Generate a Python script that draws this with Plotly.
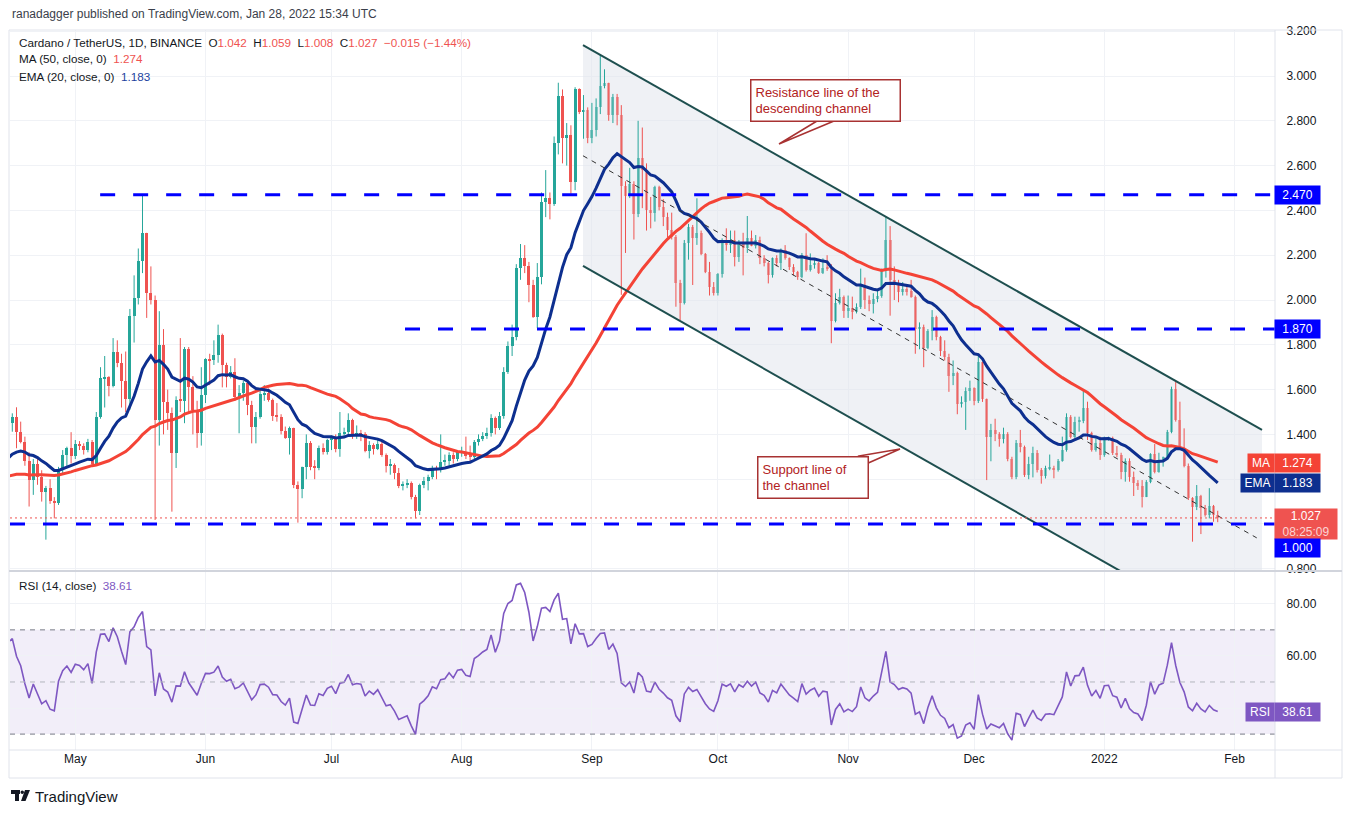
import pandas as pd
import plotly.graph_objects as go
from plotly.subplots import make_subplots

# ---------------------------------------------------------------------------
# ADA/USDT daily candles (Binance), 16 Apr 2021 -> 28 Jan 2022.
# Crypto trades 24/7, so each open is simply the previous close.
# ---------------------------------------------------------------------------

first_day = "2021-04-16"

# closes before the visible window - only used to warm up MA / EMA / RSI
warmup_close = [
    1.22, 1.26, 1.34, 1.29, 1.39, 1.17, 1.24, 1.17, 1.21, 1.19,
    1.12, 1.10, 1.12, 1.09, 1.06, 1.03, 1.06, 1.05, 1.06, 1.08,
    1.33, 1.32, 1.36, 1.30, 1.24, 1.20, 1.13, 1.06, 1.11, 1.14,
    1.18, 1.19, 1.20, 1.22, 1.20, 1.20, 1.20, 1.18, 1.20, 1.22,
    1.20, 1.15, 1.22, 1.26, 1.34, 1.40, 1.33, 1.41, 1.50, 1.45,
]

close = [
    1.479, 1.409, 1.368, 1.28, 1.197, 1.27, 1.21, 1.145, 1.16, 1.103,
    1.092, 1.241, 1.308, 1.338, 1.305, 1.356, 1.35, 1.33, 1.365, 1.27,
    1.479, 1.65, 1.655, 1.617, 1.766, 1.72, 1.64, 1.56, 1.93, 2.007,
    2.175, 2.298, 2.03, 2.0, 1.465, 1.80, 1.546, 1.494, 1.316, 1.554,
    1.55, 1.78, 1.61, 1.51, 1.405, 1.576, 1.735, 1.732, 1.754, 1.844,
    1.71, 1.655, 1.68, 1.565, 1.586, 1.628, 1.531, 1.434, 1.479, 1.579,
    1.583, 1.554, 1.482, 1.479, 1.417, 1.382, 1.43, 1.174, 1.156, 1.256,
    1.36, 1.256, 1.252, 1.338, 1.323, 1.375, 1.39, 1.333, 1.405, 1.41,
    1.464, 1.397, 1.405, 1.40, 1.326, 1.353, 1.333, 1.356, 1.308, 1.26,
    1.265, 1.226, 1.171, 1.177, 1.184, 1.122, 1.06, 1.174, 1.19, 1.21,
    1.249, 1.24, 1.279, 1.283, 1.308, 1.289, 1.32, 1.323, 1.304, 1.30,
    1.368, 1.38, 1.395, 1.405, 1.472, 1.427, 1.48, 1.68, 1.795, 1.836,
    2.142, 2.186, 2.15, 2.067, 1.923, 2.102, 2.439, 2.454, 2.43, 2.70,
    2.911, 2.722, 2.737, 2.529, 2.941, 2.841, 2.848, 2.722, 2.76, 2.863,
    2.956, 2.968, 2.826, 2.908, 2.826, 2.511, 2.466, 2.518, 2.384, 2.633,
    2.58, 2.402, 2.39, 2.503, 2.417, 2.37, 2.313, 2.283, 2.077, 1.985,
    2.253, 2.327, 2.275, 2.297, 2.205, 2.126, 2.06, 2.03, 2.116, 2.268,
    2.246, 2.268, 2.193, 2.253, 2.231, 2.278, 2.24, 2.27, 2.186, 2.167,
    2.112, 2.186, 2.167, 2.223, 2.186, 2.149, 2.127, 2.104, 2.201, 2.134,
    2.156, 2.167, 2.119, 2.144, 2.14, 1.908, 1.985, 2.015, 1.952, 1.966,
    1.948, 1.97, 2.067, 2.0, 1.98, 2.003, 2.02, 2.131, 2.268, 2.089,
    2.071, 2.037, 2.048, 2.04, 2.015, 1.869, 1.88, 1.784, 1.863, 1.926,
    1.836, 1.774, 1.747, 1.661, 1.676, 1.536, 1.546, 1.595, 1.606, 1.547,
    1.725, 1.557, 1.39, 1.42, 1.40, 1.378, 1.40, 1.289, 1.211, 1.36,
    1.345, 1.219, 1.268, 1.315, 1.24, 1.214, 1.248, 1.25, 1.243, 1.283,
    1.33, 1.479, 1.39, 1.457, 1.46, 1.516, 1.405, 1.33, 1.363, 1.308,
    1.382, 1.385, 1.318, 1.308, 1.234, 1.283, 1.211, 1.181, 1.17, 1.122,
    1.189, 1.313, 1.234, 1.286, 1.298, 1.412, 1.603, 1.464, 1.338, 1.259,
    1.114, 1.074, 1.125, 1.07, 1.04, 1.08, 1.042, 1.027,
]

high = [
    1.494, 1.521, 1.457, 1.39, 1.32, 1.29, 1.29, 1.24, 1.17, 1.20,
    1.12, 1.255, 1.33, 1.345, 1.41, 1.375, 1.37, 1.36, 1.38, 1.375,
    1.50, 1.70, 1.75, 1.66, 1.83, 1.82, 1.76, 1.77, 1.96, 2.11,
    2.23, 2.469, 2.30, 2.15, 2.02, 1.95, 1.87, 1.60, 1.52, 1.57,
    1.83, 1.79, 1.79, 1.66, 1.55, 1.70, 1.74, 1.76, 1.82, 1.89,
    1.85, 1.72, 1.705, 1.74, 1.62, 1.64, 1.64, 1.55, 1.50, 1.60,
    1.62, 1.605, 1.56, 1.54, 1.49, 1.435, 1.435, 1.43, 1.19, 1.256,
    1.40, 1.37, 1.285, 1.35, 1.36, 1.38, 1.395, 1.40, 1.50, 1.43,
    1.494, 1.47, 1.44, 1.42, 1.41, 1.37, 1.36, 1.375, 1.375, 1.315,
    1.29, 1.27, 1.25, 1.19, 1.20, 1.19, 1.13, 1.18, 1.21, 1.22,
    1.26, 1.26, 1.40, 1.31, 1.32, 1.32, 1.33, 1.345, 1.39, 1.35,
    1.375, 1.40, 1.41, 1.43, 1.49, 1.48, 1.50, 1.70, 1.815, 1.89,
    2.16, 2.25, 2.245, 2.17, 2.09, 2.165, 2.48, 2.58, 2.48, 2.73,
    2.97, 2.94, 2.79, 2.78, 2.95, 2.945, 2.915, 2.86, 2.88, 2.90,
    3.094, 3.03, 2.97, 2.92, 2.92, 2.87, 2.53, 2.59, 2.53, 2.80,
    2.77, 2.61, 2.46, 2.51, 2.51, 2.45, 2.39, 2.39, 2.29, 2.09,
    2.268, 2.34, 2.335, 2.454, 2.31, 2.21, 2.17, 2.08, 2.12, 2.275,
    2.32, 2.31, 2.31, 2.268, 2.30, 2.375, 2.31, 2.29, 2.283, 2.20,
    2.17, 2.19, 2.20, 2.23, 2.245, 2.19, 2.16, 2.13, 2.21, 2.298,
    2.208, 2.18, 2.17, 2.186, 2.20, 2.16, 2.03, 2.05, 2.02, 2.02,
    2.015, 1.985, 2.14, 2.10, 2.02, 2.03, 2.04, 2.14, 2.372, 2.33,
    2.15, 2.09, 2.08, 2.06, 2.09, 2.02, 1.90, 1.89, 1.87, 1.955,
    1.93, 1.84, 1.82, 1.76, 1.73, 1.68, 1.57, 1.61, 1.64, 1.61,
    1.759, 1.725, 1.56, 1.447, 1.47, 1.41, 1.43, 1.41, 1.30, 1.375,
    1.42, 1.35, 1.30, 1.345, 1.33, 1.25, 1.26, 1.31, 1.26, 1.29,
    1.39, 1.494, 1.486, 1.479, 1.479, 1.598, 1.546, 1.412, 1.382, 1.39,
    1.39, 1.39, 1.39, 1.348, 1.318, 1.293, 1.293, 1.234, 1.196, 1.196,
    1.196, 1.316, 1.357, 1.318, 1.301, 1.42, 1.613, 1.635, 1.546, 1.427,
    1.27, 1.12, 1.174, 1.13, 1.085, 1.16, 1.085, 1.059,
]

low = [
    1.412, 1.338, 1.36, 1.26, 1.078, 1.13, 1.175, 1.10, 0.93, 1.09,
    1.025, 1.085, 1.225, 1.25, 1.27, 1.29, 1.33, 1.31, 1.32, 1.26,
    1.26, 1.47, 1.52, 1.57, 1.61, 1.70, 1.52, 1.50, 1.51, 1.81,
    1.98, 2.12, 1.92, 1.98, 1.018, 1.35, 1.40, 1.42, 1.055, 1.25,
    1.50, 1.45, 1.50, 1.40, 1.34, 1.35, 1.54, 1.62, 1.71, 1.72,
    1.61, 1.61, 1.65, 1.55, 1.405, 1.55, 1.486, 1.36, 1.36, 1.47,
    1.55, 1.546, 1.46, 1.457, 1.40, 1.38, 1.31, 1.16, 1.006, 1.115,
    1.20, 1.24, 1.20, 1.24, 1.31, 1.31, 1.33, 1.32, 1.30, 1.39,
    1.39, 1.38, 1.38, 1.37, 1.32, 1.293, 1.31, 1.33, 1.30, 1.23,
    1.22, 1.20, 1.16, 1.15, 1.16, 1.11, 1.025, 1.04, 1.16, 1.15,
    1.20, 1.20, 1.23, 1.26, 1.26, 1.27, 1.28, 1.30, 1.29, 1.28,
    1.29, 1.35, 1.37, 1.38, 1.39, 1.40, 1.42, 1.47, 1.67, 1.75,
    1.82, 2.09, 2.12, 1.99, 1.92, 1.875, 2.07, 2.37, 2.36, 2.42,
    2.65, 2.61, 2.60, 2.474, 2.49, 2.83, 2.72, 2.70, 2.70, 2.73,
    2.83, 2.945, 2.80, 2.79, 2.78, 2.023, 2.21, 2.455, 2.27, 2.37,
    2.41, 2.31, 2.32, 2.35, 2.40, 2.33, 2.28, 2.27, 1.97, 1.91,
    1.98, 2.18, 2.067, 2.246, 2.20, 2.12, 2.02, 2.02, 2.02, 2.10,
    2.22, 2.21, 2.15, 2.17, 2.11, 2.21, 2.24, 2.23, 2.16, 2.15,
    2.074, 2.10, 2.15, 2.134, 2.18, 2.134, 2.11, 2.09, 2.097, 2.127,
    2.127, 2.14, 2.116, 2.116, 2.13, 1.807, 1.90, 1.98, 1.92, 1.92,
    1.914, 1.94, 1.96, 1.96, 1.95, 1.94, 1.99, 2.01, 2.10, 1.93,
    2.0, 1.99, 2.02, 2.02, 2.01, 1.76, 1.78, 1.70, 1.78, 1.82,
    1.82, 1.75, 1.73, 1.59, 1.62, 1.49, 1.52, 1.42, 1.55, 1.53,
    1.54, 1.545, 1.196, 1.28, 1.37, 1.345, 1.36, 1.28, 1.20, 1.20,
    1.32, 1.21, 1.20, 1.208, 1.23, 1.18, 1.203, 1.24, 1.204, 1.234,
    1.278, 1.323, 1.382, 1.382, 1.412, 1.45, 1.375, 1.323, 1.323, 1.286,
    1.30, 1.372, 1.308, 1.298, 1.20, 1.189, 1.189, 1.125, 1.152, 1.074,
    1.12, 1.182, 1.226, 1.229, 1.256, 1.293, 1.405, 1.457, 1.33, 1.253,
    1.107, 0.921, 1.062, 0.955, 1.033, 1.025, 1.01, 1.008,
]

# descending channel drawn on the chart (date, price) at both ends
channel_dates = ["2021-08-29 21:00", "2022-02-07 13:00"]
channel_upper = [3.138, 1.42]
channel_lower = [2.152, 0.431]
mid_dates = ["2021-08-29 21:00", "2022-02-06 07:00"]
mid_line = [2.644, 0.938]

# horizontal support / resistance levels and where they start
level_values = [2.47, 1.87, 1.00]
level_starts = ["2021-05-06 22:00", "2021-07-18 12:00", "2021-04-15 10:51"]

month_ticks = ["2021-05-01", "2021-06-01", "2021-07-01", "2021-08-01", "2021-09-01",
               "2021-10-01", "2021-11-01", "2021-12-01", "2022-01-01", "2022-02-01"]
month_labels = ["May", "Jun", "Jul", "Aug", "Sep", "Oct", "Nov", "Dec", "2022", "Feb"]

price_ticks = [0.8, 1.0, 1.2, 1.4, 1.6, 1.8, 2.0, 2.2, 2.4, 2.6, 2.8, 3.0, 3.2]
rsi_ticks = [40, 60, 80]

x_range = ["2021-04-15 10:51", "2022-02-10 15:20"]

# ---------------------------------------------------------------------------
# Indicators
# ---------------------------------------------------------------------------

dates = pd.date_range(first_day, periods=len(close), freq="D")
warm_dates = pd.date_range(end=dates[0] - pd.Timedelta(days=1), periods=len(warmup_close), freq="D")
all_close = pd.Series(warmup_close + close, index=warm_dates.append(dates))
opens = [warmup_close[-1]] + close[:-1]

ma50 = all_close.rolling(50).mean()
ema20 = all_close.ewm(span=20, adjust=False).mean()
delta = all_close.diff()
gain = delta.clip(lower=0).ewm(alpha=1 / 14, adjust=False).mean()
loss = (-delta.clip(upper=0)).ewm(alpha=1 / 14, adjust=False).mean()
rsi = 100 - 100 / (1 + gain / loss)

vis = all_close.index >= "2021-04-15"

# ---------------------------------------------------------------------------
# Colours / geometry
# ---------------------------------------------------------------------------

UP, DOWN = "#26a69a", "#ef5350"
MA_RED, EMA_NAVY = "#f44336", "#0d2f8f"
LEVEL_BLUE = "#0000ff"
RSI_PURPLE = "#7e57c2"
GRID = "#f0f2f6"
TEXT = "#131722"
FONT = "Liberation Sans"
CALLOUT = "#a83232"

# plot area in page pixels (1352x813 page)
PL, PR, PT, PB = 10, 1275, 30, 750


def px(x):
    return (x - PL) / (PR - PL)


def py(y):
    return (PB - y) / (PB - PT)


fig = make_subplots(rows=2, cols=1, shared_xaxes=True, vertical_spacing=0.0)

# channel shading
fig.add_trace(go.Scatter(
    x=channel_dates + channel_dates[::-1],
    y=channel_upper + channel_lower[::-1],
    fill="toself", fillcolor="rgba(226,230,236,0.55)", line=dict(width=0),
    mode="lines", hoverinfo="skip", showlegend=False,
), row=1, col=1)

# candles: wicks as line segments, bodies as floating bars
is_up = [c >= o for o, c in zip(opens, close)]
for up, col in ((True, UP), (False, DOWN)):
    wx, wy = [], []
    for d, h, lo, u in zip(dates, high, low, is_up):
        if u == up:
            wx += [d, d, None]
            wy += [lo, h, None]
    fig.add_trace(go.Scatter(x=wx, y=wy, mode="lines", line=dict(color=col, width=1),
                             hoverinfo="skip", showlegend=False), row=1, col=1)

fig.add_trace(go.Bar(
    x=dates,
    base=[min(o, c) for o, c in zip(opens, close)],
    y=[max(abs(c - o), 0.004) for o, c in zip(opens, close)],
    width=0.72 * 86400000,
    marker=dict(color=[UP if u else DOWN for u in is_up], line=dict(width=0)),
    showlegend=False,
), row=1, col=1)

fig.add_trace(go.Scatter(x=all_close.index[vis], y=ma50[vis], mode="lines",
                         line=dict(color=MA_RED, width=3), showlegend=False), row=1, col=1)
fig.add_trace(go.Scatter(x=all_close.index[vis], y=ema20[vis], mode="lines",
                         line=dict(color=EMA_NAVY, width=3), showlegend=False), row=1, col=1)

fig.add_trace(go.Scatter(x=all_close.index[vis], y=rsi[vis], mode="lines",
                         line=dict(color=RSI_PURPLE, width=1.6), showlegend=False), row=2, col=1)

# channel lines
for ys in (channel_upper, channel_lower):
    fig.add_shape(type="line", xref="x", yref="y", x0=channel_dates[0], x1=channel_dates[1],
                  y0=ys[0], y1=ys[1], line=dict(color="#1e4f4f", width=2))
fig.add_shape(type="line", xref="x", yref="y", x0=mid_dates[0], x1=mid_dates[1],
              y0=mid_line[0], y1=mid_line[1], line=dict(color="#333", width=1, dash="5px,5px"))

# horizontal levels
for val, start in zip(level_values, level_starts):
    fig.add_shape(type="line", xref="x", yref="y", x0=start, x1=x_range[1], y0=val, y1=val,
                  line=dict(color=LEVEL_BLUE, width=3, dash="15px,18px"))

# current price line
fig.add_shape(type="line", xref="paper", yref="y", x0=0, x1=1, y0=close[-1], y1=close[-1],
              line=dict(color=DOWN, width=1, dash="2px,3px"))

# RSI band
fig.add_shape(type="rect", xref="paper", yref="y2", x0=0, x1=1, y0=30, y1=70,
              fillcolor="rgba(126,87,194,0.1)", line=dict(width=0), layer="below")
for lvl, col in ((70, "#787b86"), (50, "#b2b5be"), (30, "#787b86")):
    fig.add_shape(type="line", xref="paper", yref="y2", x0=0, x1=1, y0=lvl, y1=lvl,
                  line=dict(color=col, width=1, dash="5px,5px"))

# frame / separators
frame = dict(color="#e0e3eb", width=1)
fig.add_shape(type="rect", xref="paper", yref="paper", x0=px(9), x1=px(1342), y0=py(778), y1=py(30),
              line=frame)
fig.add_shape(type="line", xref="paper", yref="paper", x0=1, x1=1, y0=py(778), y1=py(30), line=frame)
fig.add_shape(type="line", xref="paper", yref="paper", x0=px(9), x1=px(1342), y0=0, y1=0, line=frame)
fig.add_shape(type="line", xref="paper", yref="paper", x0=px(9), x1=px(1342), y0=py(571), y1=py(571),
              line=dict(color="#d1d4dc", width=2))

# callout wedges (pointer of the text boxes)
for base_a, base_b, tip in (((817, 121), (834, 121), (779, 144)),
                            ((859, 456), (866, 464), (900, 449))):
    fig.add_shape(type="path", xref="paper", yref="paper",
                  path=(f"M {px(base_a[0])} {py(base_a[1])} L {px(tip[0])} {py(tip[1])} "
                        f"L {px(base_b[0])} {py(base_b[1])} Z"),
                  fillcolor="white", line=dict(color=CALLOUT, width=1.5))

# TradingView logo (small glyph)
logo = "#131722"
fig.add_shape(type="rect", xref="paper", yref="paper", x0=px(11), x1=px(20), y0=py(794), y1=py(790),
              fillcolor=logo, line=dict(width=0))
fig.add_shape(type="rect", xref="paper", yref="paper", x0=px(15), x1=px(19), y0=py(801), y1=py(790),
              fillcolor=logo, line=dict(width=0))
fig.add_shape(type="circle", xref="paper", yref="paper", x0=px(20.5), x1=px(24), y0=py(794), y1=py(790.5),
              fillcolor=logo, line=dict(width=0))
fig.add_shape(type="path", xref="paper", yref="paper",
              path=f"M {px(25)} {py(790)} L {px(30)} {py(790)} L {px(25.5)} {py(801)} L {px(21)} {py(801)} Z",
              fillcolor=logo, line=dict(width=0))

ann = []


def text(x, y, s, size=12, color=TEXT, anchor="left"):
    ann.append(dict(xref="paper", yref="paper", x=px(x), y=py(y), text=s, showarrow=False,
                    xanchor=anchor, yanchor="middle", font=dict(family=FONT, size=size, color=color)))


nb = "\u00a0"
red_span = "<span style='color:#ef5350'>{}</span>"
text(10, 14, "ranadagger published on TradingView.com, Jan 28, 2022 15:34 UTC", 12, "#3a3e4a")
text(17, 42, "Cardano / TetherUS, 1D, BINANCE" + nb * 2 + "O" + red_span.format("1.042") + nb * 2 +
     "H" + red_span.format("1.059") + nb * 2 + "L" + red_span.format("1.008") + nb * 2 +
     "C" + red_span.format("1.027") + nb * 2 + red_span.format("\u22120.015 (\u22121.44%)"), 11.7)
text(17, 59, "MA (50, close, 0)" + nb * 2 + red_span.format("1.274"), 11.7)
text(17, 76, "EMA (20, close, 0)" + nb * 2 + "<span style='color:#1c3f9e'>1.183</span>", 11.7)
text(17, 585, "RSI (14, close)" + nb * 2 + "<span style='color:#7e57c2'>38.61</span>", 11.7)
text(33, 796, "TradingView", 15, "#131722")


def box(y, yref, s, bg, x_left=1274, w=45, h=18, shift=0, color="white"):
    ann.append(dict(xref="paper", yref=yref, x=px(x_left), y=y, xanchor="left", yanchor="middle",
                    yshift=shift, text=s, showarrow=False, bgcolor=bg, width=w, height=h,
                    borderpad=0, align="center", font=dict(family=FONT, size=12, color=color)))


box(2.47, "y", "2.470", LEVEL_BLUE)
box(1.87, "y", "1.870", LEVEL_BLUE)
box(1.274, "y", "1.274", MA_RED)
box(1.274, "y", "MA", MA_RED, x_left=1247, w=26)
box(1.183, "y", "1.183", EMA_NAVY)
box(1.183, "y", "EMA", EMA_NAVY, x_left=1240, w=33)
box(close[-1], "y", "1.027<br><span style='color:#fbd3d3'>08:25:09</span>", DOWN, w=62, h=30, shift=-6)
box(1.0, "y", "1.000", LEVEL_BLUE, shift=-24)
box(38.61, "y2", "38.61", RSI_PURPLE)
box(38.61, "y2", "RSI", RSI_PURPLE, x_left=1245, w=28)

# callout boxes
for cx, cy, s, w in ((825, 100.5, "Resistance line of the<br>descending channel", 140),
                     (812.5, 477.5, "Support line of<br>the channel", 101)):
    ann.append(dict(xref="paper", yref="paper", x=px(cx), y=py(cy), xanchor="center", yanchor="middle",
                    text=s, showarrow=False, bgcolor="white", bordercolor=CALLOUT, borderwidth=1.5,
                    borderpad=4, align="left", width=w,
                    font=dict(family=FONT, size=13, color="#b22222")))

fig.update_layout(
    width=1352, height=813,
    margin=dict(l=PL, r=1352 - PR, t=PT, b=813 - PB),
    paper_bgcolor="white", plot_bgcolor="white",
    showlegend=False, annotations=ann, bargap=0,
    font=dict(family=FONT, size=12, color=TEXT),
    xaxis=dict(range=x_range, showticklabels=False,
               tickvals=month_ticks, showgrid=True, gridcolor=GRID, zeroline=False),
    xaxis2=dict(range=x_range, tickvals=month_ticks, ticktext=month_labels, showgrid=True,
                gridcolor=GRID, ticks="", tickfont=dict(size=12, color=TEXT), zeroline=False),
    yaxis=dict(domain=[py(570), 1], range=[0.7946, 3.2054], side="right", tickvals=price_ticks,
               ticktext=["" if v in (1.0, 1.2) else f"{v:.3f}" for v in price_ticks],
               showgrid=True, gridcolor=GRID, zeroline=False, ticks="outside", ticklen=8,
               tickcolor="rgba(0,0,0,0)", tickfont=dict(size=12, color=TEXT)),
    yaxis2=dict(domain=[0, py(572)], range=[23.9, 92.2], side="right", tickvals=rsi_ticks,
                ticktext=["", "60.00", "80.00"], showgrid=True, gridcolor=GRID, zeroline=False,
                ticks="outside", ticklen=8, tickcolor="rgba(0,0,0,0)",
                tickfont=dict(size=12, color=TEXT)),
)

fig.write_html("out.html", config={"displayModeBar": False},
               post_script="document.body.style.margin='0';")
